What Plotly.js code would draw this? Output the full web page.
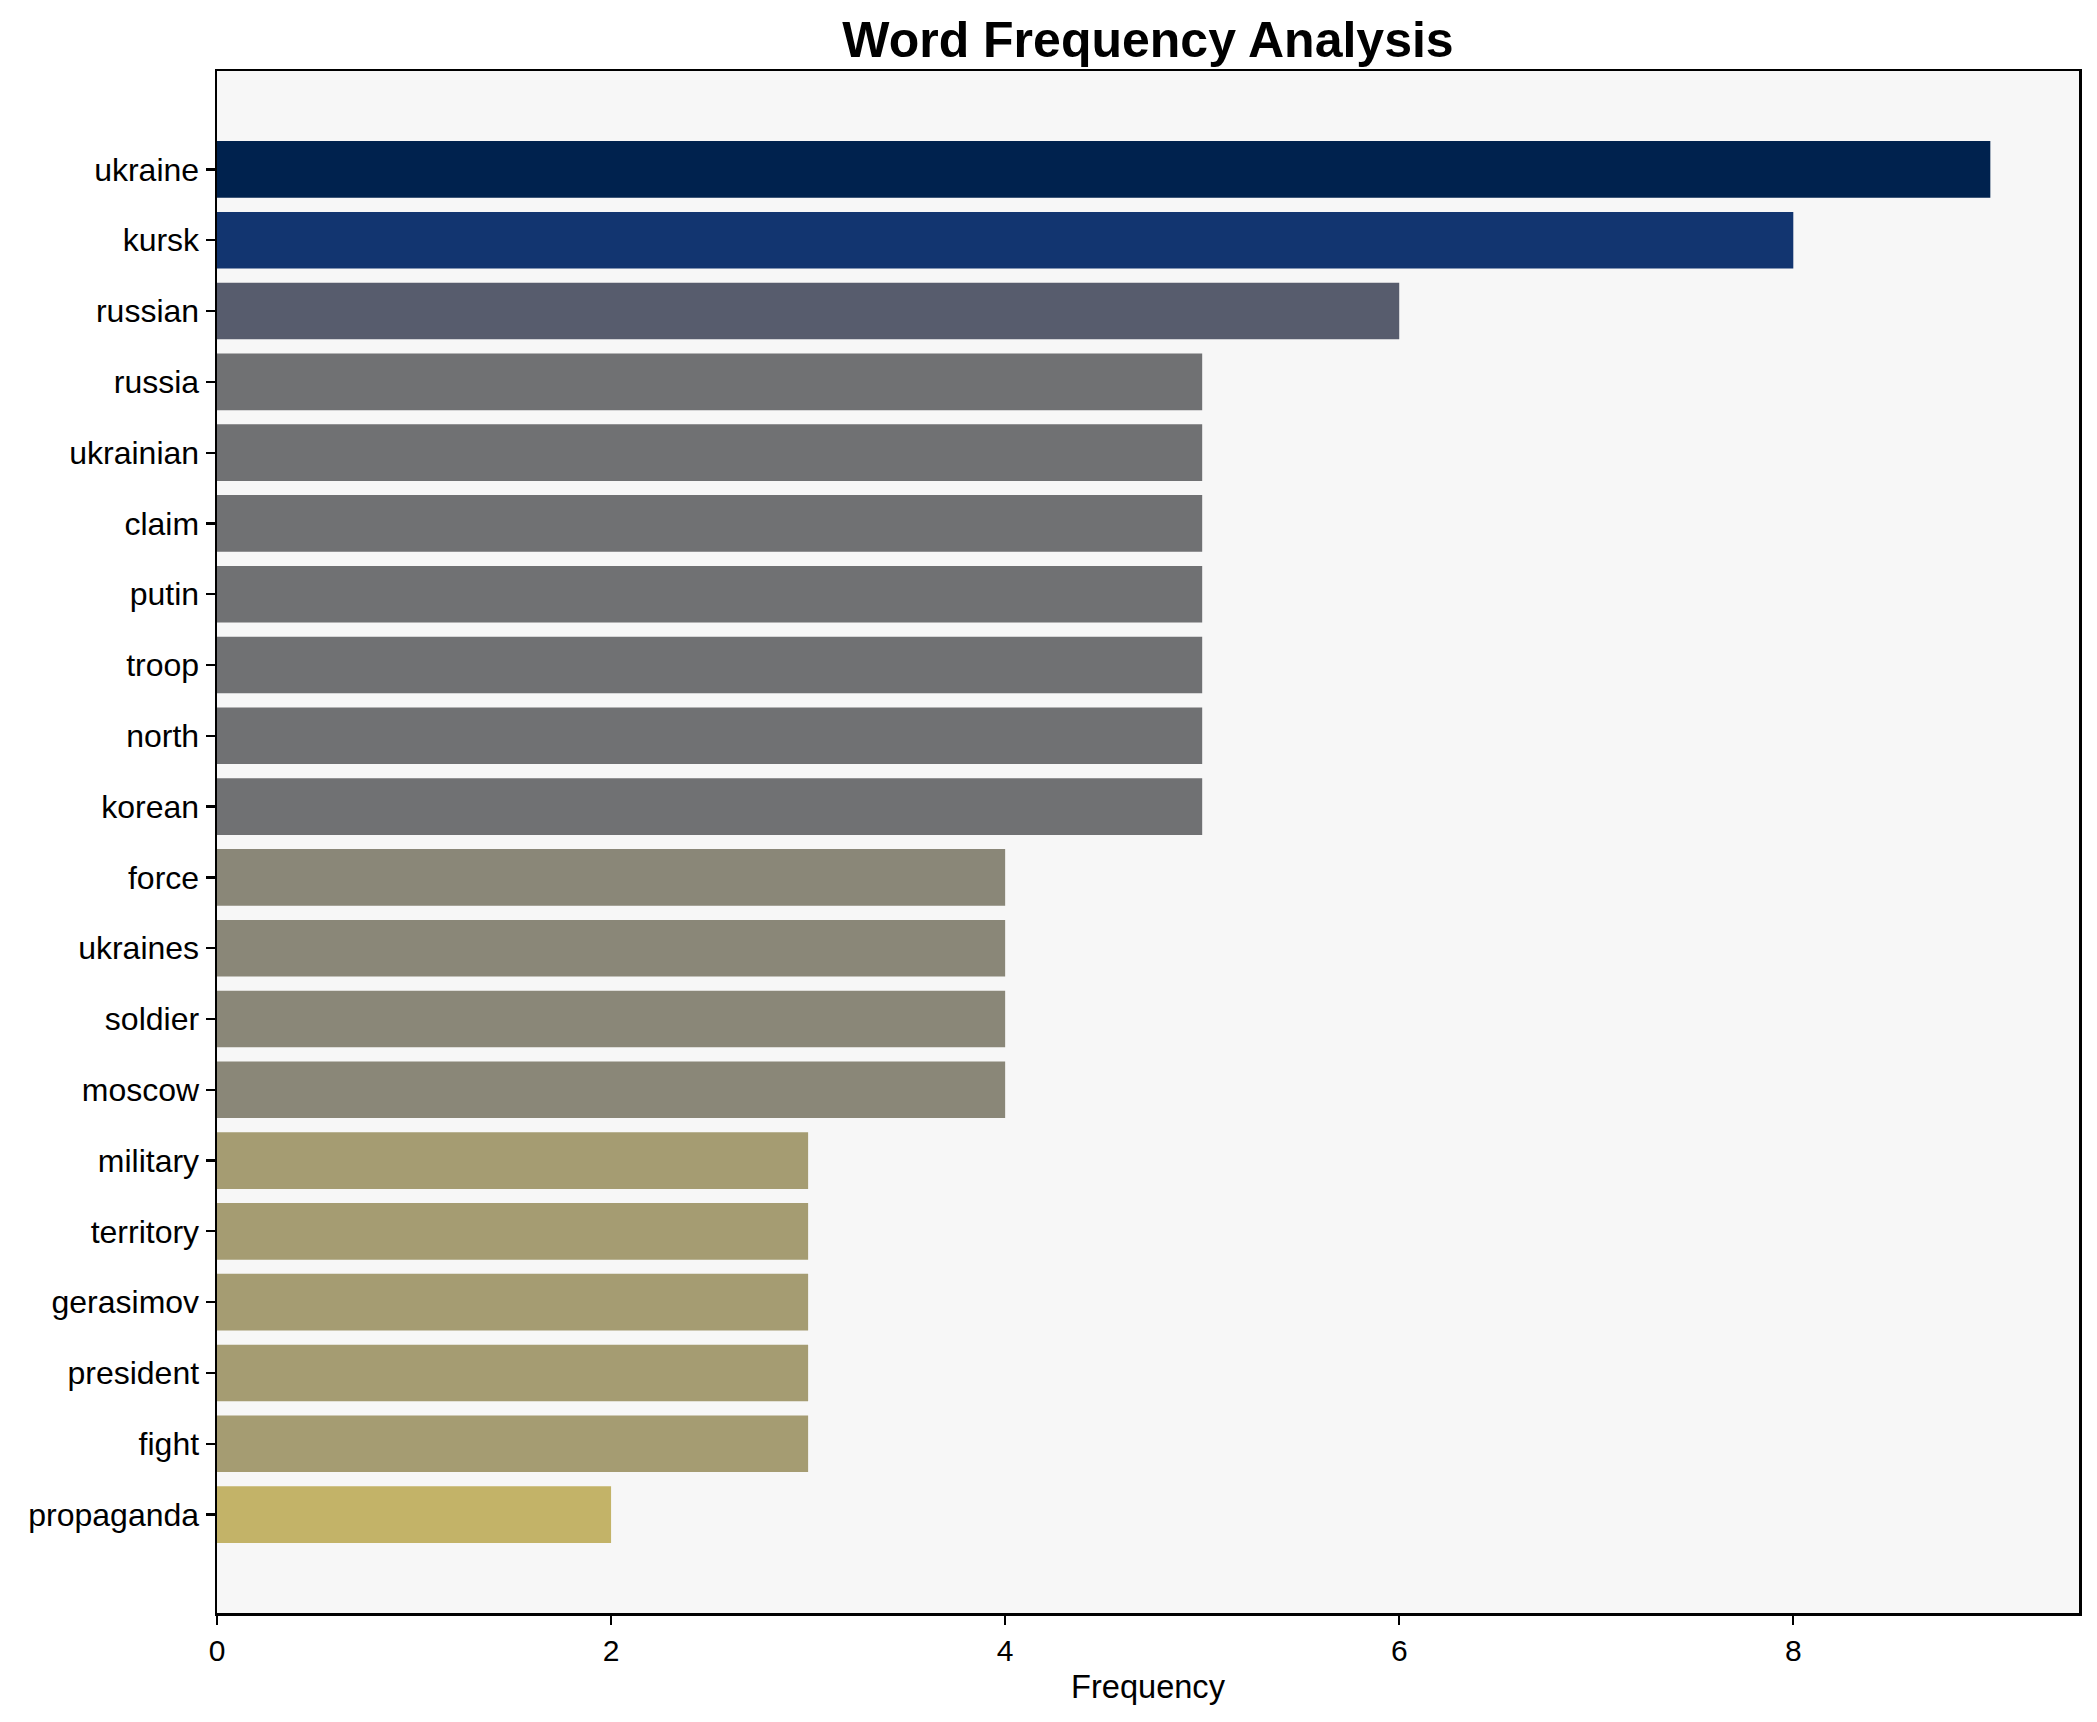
<!DOCTYPE html>
<html>
<head>
<meta charset="utf-8">
<script src="https://cdn.plot.ly/plotly-3.0.1.min.js"></script>
<style>html,body{margin:0;padding:0;background:#fff;}#chart{width:2097px;height:1722px;}</style>
</head>
<body>
<div id="chart"></div>
<script>
const words = ["ukraine","kursk","russian","russia","ukrainian","claim","putin","troop","north","korean","force","ukraines","soldier","moscow","military","territory","gerasimov","president","fight","propaganda"];
const frequencies = [9,8,6,5,5,5,5,5,5,5,4,4,4,4,3,3,3,3,3,2];
const barColors = ["#00224e","#123570","#575c6d","#707173","#707173","#707173","#707173","#707173","#707173","#707173","#8a8778","#8a8778","#8a8778","#8a8778","#a59c72","#a59c72","#a59c72","#a59c72","#a59c72","#c3b368"];
const xTicks = [0,2,4,6,8];

const FONT = "Liberation Sans, Arial, sans-serif";
const trace = {
  type: "bar",
  orientation: "h",
  x: frequencies,
  y: words,
  width: 0.8,
  marker: {color: barColors, line: {width: 0}},
  hoverinfo: "x+y"
};
const layout = {
  width: 2097, height: 1722,
  margin: {l: 217, r: 18, t: 71, b: 109},
  paper_bgcolor: "#ffffff",
  plot_bgcolor: "#f7f7f7",
  showlegend: false,
  bargap: 0.2,
  title: {text: "<b>Word Frequency Analysis</b>", font: {family: FONT, size: 50, color: "#000"},
          x: 0.5, xanchor: "center", xref: "paper", y: 1 - 39/1722, yanchor: "middle", yref: "container"},
  xaxis: {
    range: [0, 9.45], tickmode: "array", tickvals: xTicks, ticktext: xTicks.map(String),
    showgrid: false, zeroline: false,
    showline: true, mirror: true, linecolor: "#000", linewidth: 2.5,
    ticks: "outside", ticklen: 9, tickwidth: 2.2, tickcolor: "#000",
    tickfont: {family: FONT, size: 30, color: "#000"},
    title: {text: "Frequency", font: {family: FONT, size: 32.6, color: "#000"}, standoff: 10},
    automargin: false
  },
  yaxis: {
    type: "category", range: [20.39, -1.39],
    showgrid: false, zeroline: false,
    showline: true, mirror: true, linecolor: "#000", linewidth: 2.5,
    ticks: "outside", ticklen: 9, tickwidth: 2.2, tickcolor: "#000",
    tickfont: {family: FONT, size: 32, color: "#000"},
    automargin: false
  }
};
Plotly.newPlot("chart", [trace], layout, {displayModeBar: false, staticPlot: true});
</script>
</body>
</html>
